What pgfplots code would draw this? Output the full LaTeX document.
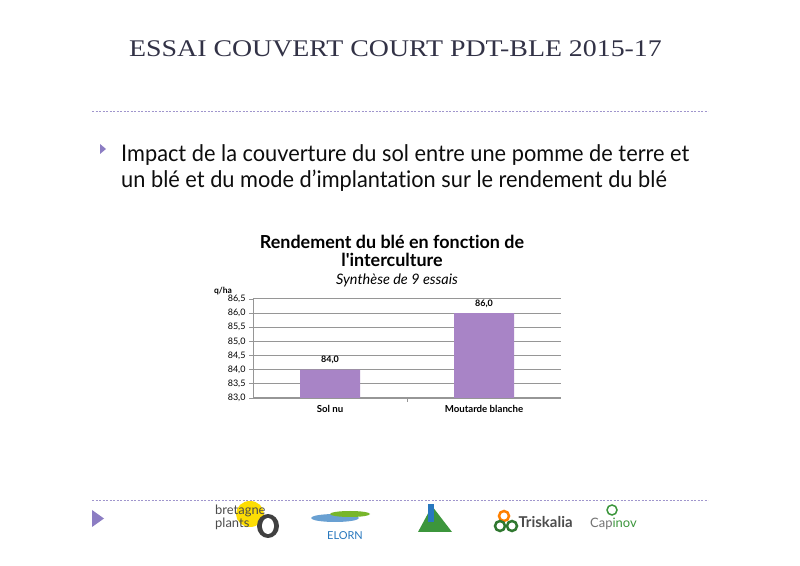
\documentclass[border=0pt]{standalone}
\usepackage{pgfplots}
\pgfplotsset{compat=1.18}
\usepackage{fontspec}
\setmainfont{Liberation Serif}
\newfontfamily\titlefont[FakeStretch=1.165]{Liberation Serif}
\newfontfamily\gill[Ligatures={TeXOff,NoCommon}]{Lato}
\newfontfamily\gillnarrow[Ligatures={NoCommon},FakeStretch=0.95]{Lato}
\definecolor{barpurple}{RGB}{168,132,198}
\definecolor{lav}{RGB}{160,150,205}
\definecolor{tri}{RGB}{140,125,195}
\definecolor{gridgray}{RGB}{150,150,150}
\definecolor{titlegray}{RGB}{50,50,70}
\definecolor{elornblue}{RGB}{40,120,190}
\definecolor{leafgreen}{RGB}{60,150,60}

\begin{document}
\begin{tikzpicture}
\useasboundingbox[fill=white] (0,0) rectangle (800bp,566bp);

% slide header
\node[font=\titlefont\fontsize{24}{28}\selectfont, text=titlegray, anchor=base west, inner sep=0pt]
  at (129bp,509bp) {ESSAI COUVERT COURT PDT-BLE 2015-17};
\draw[lav, dash pattern=on 2bp off 1.5bp, line width=0.9bp] (92bp,455bp) -- (708bp,455bp);
\fill[tri] (100bp,422bp) -- (100bp,412bp) -- (106bp,417bp) -- cycle;
\node[anchor=base west, font=\gillnarrow\fontsize{23}{27}\selectfont, text=black!95, align=left, inner sep=0pt]
  at (121bp,378bp) {Impact de la couverture du sol entre une pomme de terre et\\un blé et du mode d’implantation sur le rendement du blé};

% chart titles
\node[font=\gill\bfseries\fontsize{18}{17.5}\selectfont, align=center] at (392bp,315bp)
  {Rendement du blé en fonction de\\l'interculture};
\node[font=\gill\itshape\fontsize{14.5}{16}\selectfont] at (397bp,286bp) {Synthèse de 9 essais};
\node[font=\gill\bfseries\fontsize{8.5}{10}\selectfont] at (223bp,275bp) {q/ha};

\begin{axis}[
    at={(253bp,168bp)}, anchor=south west,
    scale only axis, width=308bp, height=99bp,
    xmin=-0.5, xmax=1.5, ymin=83, ymax=86.5,
    ytick={83,83.5,84,84.5,85,85.5,86,86.5},
    xtick={0,1}, xticklabels={Sol nu, Moutarde blanche},
    xtick style={draw=none},
    extra x ticks={0.5}, extra x tick labels={},
    extra x tick style={xtick style={draw=gridgray, line width=0.8bp}},
    axis x line*=bottom, axis y line*=left,
    axis line style={gridgray, line width=0.9bp, -},
    ytick style={gridgray, line width=0.8bp},
    tick align=outside, major tick length=4bp,
    ymajorgrids, grid style={gridgray, line width=1bp},
    ticklabel style={font=\gill\fontsize{9}{10}\selectfont},
    xticklabel style={font=\gill\bfseries\fontsize{9.7}{10}\selectfont},
    /pgf/number format/assume math mode=true,
    yticklabel style={/pgf/number format/.cd, fixed, fixed zerofill, precision=1, use comma},
    nodes near coords,
    nodes near coords style={font=\gill\bfseries\fontsize{9}{10}\selectfont, yshift=2bp,
      /pgf/number format/.cd, fixed, fixed zerofill, precision=1, use comma},
]
\addplot[ybar, bar width=60bp, fill=barpurple, draw=none] coordinates {(0,84.0) (1,86.0)};
\end{axis}

% footer
\draw[lav, dash pattern=on 2bp off 1.5bp, line width=0.9bp] (92bp,66bp) -- (708bp,66bp);
\fill[tri] (92bp,56bp) -- (92bp,39bp) -- (104bp,47.5bp) -- cycle;

% logos (simplified)
\fill[yellow!80!orange] (250bp,52bp) ellipse (14bp and 13bp);
\fill[black!75] (268bp,40bp) ellipse (11bp and 12bp);
\fill[white] (268bp,40bp) ellipse (6bp and 8bp);
\node[font=\gill\fontsize{13}{11}\selectfont, text=black!70, align=left, inner sep=0pt, anchor=north west] at (215bp,61bp) {bretagne\\plants};
\fill[elornblue!70] (335bp,48bp) ellipse (24bp and 4bp);
\fill[leafgreen!70!yellow] (350bp,52bp) ellipse (20bp and 3bp);
\node[font=\gill\fontsize{11}{12}\selectfont, text=elornblue] at (345bp,30bp) {ELORN};
\fill[leafgreen] (418bp,34bp) -- (432bp,60bp) -- (452bp,34bp) -- cycle;
\fill[elornblue] (428bp,44bp) rectangle (434bp,62bp);
\draw[orange, line width=2.5bp] (504bp,50bp) circle (5bp);
\draw[leafgreen!80!black, line width=2.5bp] (500bp,40bp) circle (5bp);
\draw[leafgreen!80!black, line width=2.5bp] (512bp,40bp) circle (5bp);
\node[font=\gill\bfseries\fontsize{15}{16}\selectfont, text=black!70, anchor=west] at (515bp,44bp) {Triskalia};
\draw[leafgreen, line width=1.5bp] (612bp,56bp) circle (5bp);
\node[font=\gill\fontsize{13}{14}\selectfont, anchor=west, inner sep=0pt] at (590bp,42bp) {\textcolor{black!55}{Cap}\textcolor{leafgreen}{inov}};
\end{tikzpicture}
\end{document}
